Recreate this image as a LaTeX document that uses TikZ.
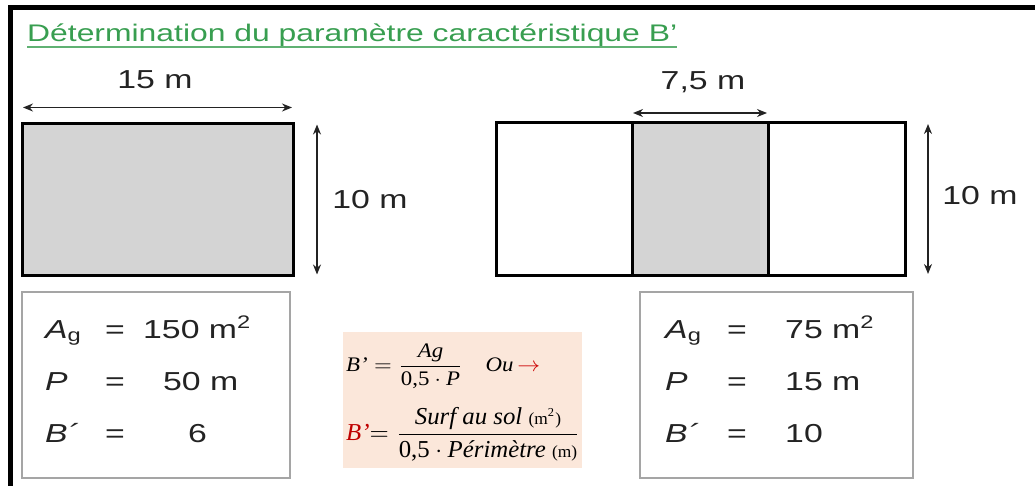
\documentclass[tikz,border=0pt]{standalone}
\usepackage{fontspec}
\setmainfont{Liberation Serif}
\setsansfont{Liberation Sans}
\usepackage{amsmath}
\usepackage{xcolor}
\usetikzlibrary{arrows.meta, positioning, calc}

\definecolor{titre}{RGB}{56,158,80}
\definecolor{gris}{RGB}{212,212,212}
\definecolor{peche}{RGB}{251,231,218}
\definecolor{cadre}{RGB}{165,165,165}
\definecolor{encre}{RGB}{35,35,35}

\newcommand{\etire}[1]{\scalebox{1.3}[1]{#1}}
\newcommand{\Ag}{\textit{A}\textsubscript{g}}
\newcommand{\Bp}{\textit{B´}}

\begin{document}
\begin{tikzpicture}[
    x=1pt, y=-1pt,
    parcelle/.style={rectangle, draw=black, line width=3pt, outer sep=0pt, inner sep=0pt, minimum height=152pt},
    cote/.style={{Stealth[length=10pt,width=8pt]}-{Stealth[length=10pt,width=8pt]}, line width=1.4pt, draw=encre, shorten <=1pt, shorten >=1pt},
    mesure/.style={font=\sffamily\fontsize{26}{30}\selectfont, text=encre, inner sep=0pt},
    tableau/.style={rectangle, draw=cadre, line width=1.5pt, minimum height=186pt},
    valeur/.style={font=\sffamily\fontsize{26}{30}\selectfont, text=encre, anchor=base west, inner sep=0pt}
]
\useasboundingbox (0,0) rectangle (1035,486);

% Cadre
\draw[line width=5pt] (1035,7.5) -- (10.5,7.5) -- (10.5,486);

% Titre
\node[anchor=base west, inner sep=0pt, text=titre, font=\sffamily\fontsize{24}{26}\selectfont] (titre) at (27,42) {\resizebox{650pt}{\height}{Détermination du paramètre caractéristique B'}};
\draw[titre!80, line width=1.8pt] ([yshift=-5pt]titre.base west) -- ([yshift=-5pt]titre.base east);

% Parcelle 15 m x 10 m
\node[parcelle, fill=gris, minimum width=271pt] (terrain) at (157.5,199.5) {};

% Parcelle decoupee en trois
\node[parcelle, minimum width=136pt] (gauche) at (564,199) {};
\node[parcelle, fill=gris, minimum width=136pt, right=0pt of gauche] (milieu) {};
\node[parcelle, minimum width=137pt, right=0pt of milieu] (droite) {};

% Cotes
\draw[cote] ([yshift=16pt]terrain.north west) -- ([yshift=16pt]terrain.north east);
\draw[cote] ([xshift=24pt]terrain.north east) -- ([xshift=24pt]terrain.south east);
\draw[cote] ([yshift=10pt]milieu.north west) -- ([yshift=10pt]milieu.north east);
\draw[cote] ([xshift=23pt]droite.north east) -- ([xshift=23pt]droite.south east);

\node[mesure] (long) at (155,80) {\etire{15 m}};
\node[mesure] (largA) at (370,200) {\etire{10 m}};
\node[mesure] (demi) at (703,82) {\etire{7,5 m}};
\node[mesure] (largB) at (980,196) {\etire{10 m}};

% Tableaux des valeurs
\node[tableau, minimum width=268pt] (infoA) at (156,385) {};
\node[tableau, minimum width=273pt] (infoB) at (776.5,385) {};

\node[valeur] (agA) at (45,338) {\etire{\Ag}};
\node[valeur] (egA) at (105,338) {\etire{=}};
\node[valeur] (vagA) at (143,338) {\etire{150 m\textsuperscript{2}}};
\node[valeur] (pA) at (45,390) {\etire{\textit{P}}};
\node[valeur] (epA) at (105,390) {\etire{=}};
\node[valeur] (vpA) at (163,390) {\etire{50 m}};
\node[valeur] (bA) at (45,442) {\etire{\Bp}};
\node[valeur] (ebA) at (105,442) {\etire{=}};
\node[valeur] (vbA) at (188,442) {\etire{6}};

\node[valeur] (agB) at (665,338) {\etire{\Ag}};
\node[valeur] (egB) at (727,338) {\etire{=}};
\node[valeur] (vagB) at (785,338) {\etire{75 m\textsuperscript{2}}};
\node[valeur] (pB) at (665,390) {\etire{\textit{P}}};
\node[valeur] (epB) at (727,390) {\etire{=}};
\node[valeur] (vpB) at (785,390) {\etire{15 m}};
\node[valeur] (bB) at (665,442) {\etire{\Bp}};
\node[valeur] (ebB) at (727,442) {\etire{=}};
\node[valeur] (vbB) at (785,442) {\etire{10}};

% Formule
\node[rectangle, fill=peche, minimum width=239pt, minimum height=136pt] (formule) at (462.5,400) {};
\node[anchor=west, inner sep=0pt] (formuleA) at (346,366) {\resizebox*{194pt}{45pt}{$\textit{B'}=\dfrac{\textit{Ag}}{\mbox{0,5}\cdot\textit{P}}$\quad\textit{Ou}\,{\color{red!80!black}$\rightarrow$}}};
\node[anchor=west, inner sep=0pt] (formuleB) at (346,434) {\resizebox*{234pt}{54pt}{{\color{red!75!black}\textit{B'}}$=\dfrac{\textit{Surf au sol}\ \mbox{\scriptsize(m\textsuperscript{2})}}{\mbox{0,5}\cdot\textit{Périmètre}\ \mbox{\scriptsize(m)}}$}};

\end{tikzpicture}
\end{document}
